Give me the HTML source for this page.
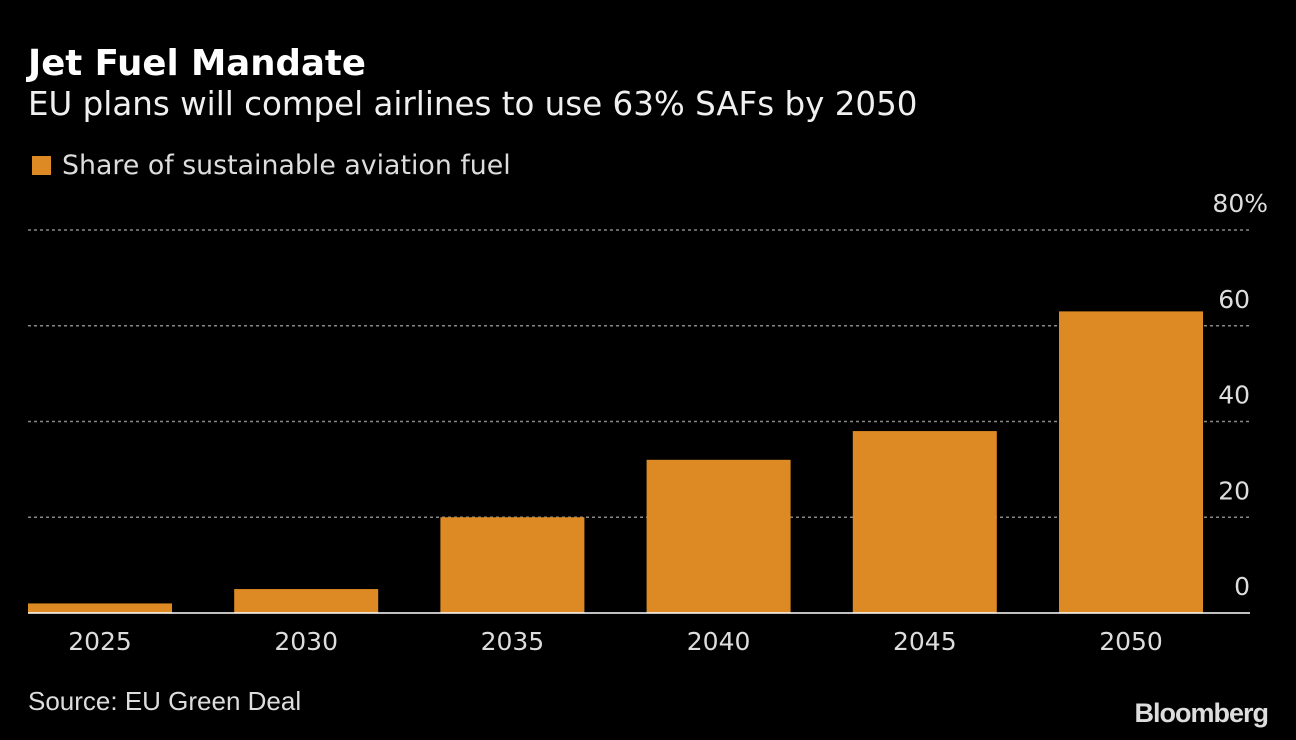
<!DOCTYPE html>
<html><head><meta charset="utf-8"><style>
body{margin:0;background:#000;width:1296px;height:740px;overflow:hidden;font-family:"DejaVu Sans",sans-serif;color:#fff}
#t{position:absolute;left:28px;top:43px;font-size:35.5px;font-weight:bold}
#s{position:absolute;left:28px;top:85px;font-size:32.5px;color:#f0f0f0}
#l{position:absolute;left:32px;top:150px;font-size:26.8px;color:#ddd}
#l span{display:inline-block;width:19px;height:19px;background:#dd8a24;margin-right:11px;vertical-align:-1px}
#src{position:absolute;left:28px;top:686px;font-size:26px;color:#ddd;font-family:"Liberation Sans",sans-serif}
#bb{position:absolute;right:28px;top:698px;font-size:27px;font-weight:bold;color:#ddd;letter-spacing:-1px;font-family:"Liberation Sans",sans-serif}
svg{position:absolute;left:0;top:0}
</style></head><body>
<div id="t">Jet Fuel Mandate</div>
<div id="s">EU plans will compel airlines to use 63% SAFs by 2050</div>
<div id="l"><span></span>Share of sustainable aviation fuel</div>
<div id="src">Source: EU Green Deal</div>
<div id="bb">Bloomberg</div>
<svg id="c" width="1296" height="740"></svg>
<script>
const categories=["2025","2030","2035","2040","2045","2050"];
const values=[2,5,20,32,38,63];
const ticks=[0,20,40,60,80];
const tickLabels=["0","20","40","60","80%"];
const svg=document.getElementById('c');
const NS="http://www.w3.org/2000/svg";
const x0=28,x1=1250,y0=613,pxPer=95.75/20,step=206.2,bw=144;
const y=v=>y0-v*pxPer;
const xb=i=>x0+i*step;
function mk(t,a){const e=document.createElementNS(NS,t);for(const k in a)e.setAttribute(k,a[k]);svg.appendChild(e);return e;}
ticks.forEach((t,i)=>{
 if(t>0){const g=mk('line',{x1:x0,x2:x1,y1:y(t),y2:y(t),stroke:'#888','stroke-width':1.5,'stroke-dasharray':'3,3'});
 
 }
 const hasPct=tickLabels[i].endsWith('%');
 const tx=mk('text',{x:hasPct?1268:x1,y:y(t)-18,'text-anchor':'end','font-size':25,fill:'#ddd','font-family':'DejaVu Sans'});
 tx.textContent=tickLabels[i];
 
 
});
values.forEach((v,i)=>{
 const r=mk('rect',{x:xb(i),y:y(v),width:bw,height:y0-y(v),fill:'#dd8a24'});
 
 
 const tx=mk('text',{x:xb(i)+bw/2,y:650,'text-anchor':'middle','font-size':25,fill:'#ddd','font-family':'DejaVu Sans'});
 tx.textContent=categories[i];
 
 
});
const b=mk('line',{x1:x0,x2:x1,y1:y0,y2:y0,stroke:'#fff','stroke-width':1.5});


</script>
</body></html>
